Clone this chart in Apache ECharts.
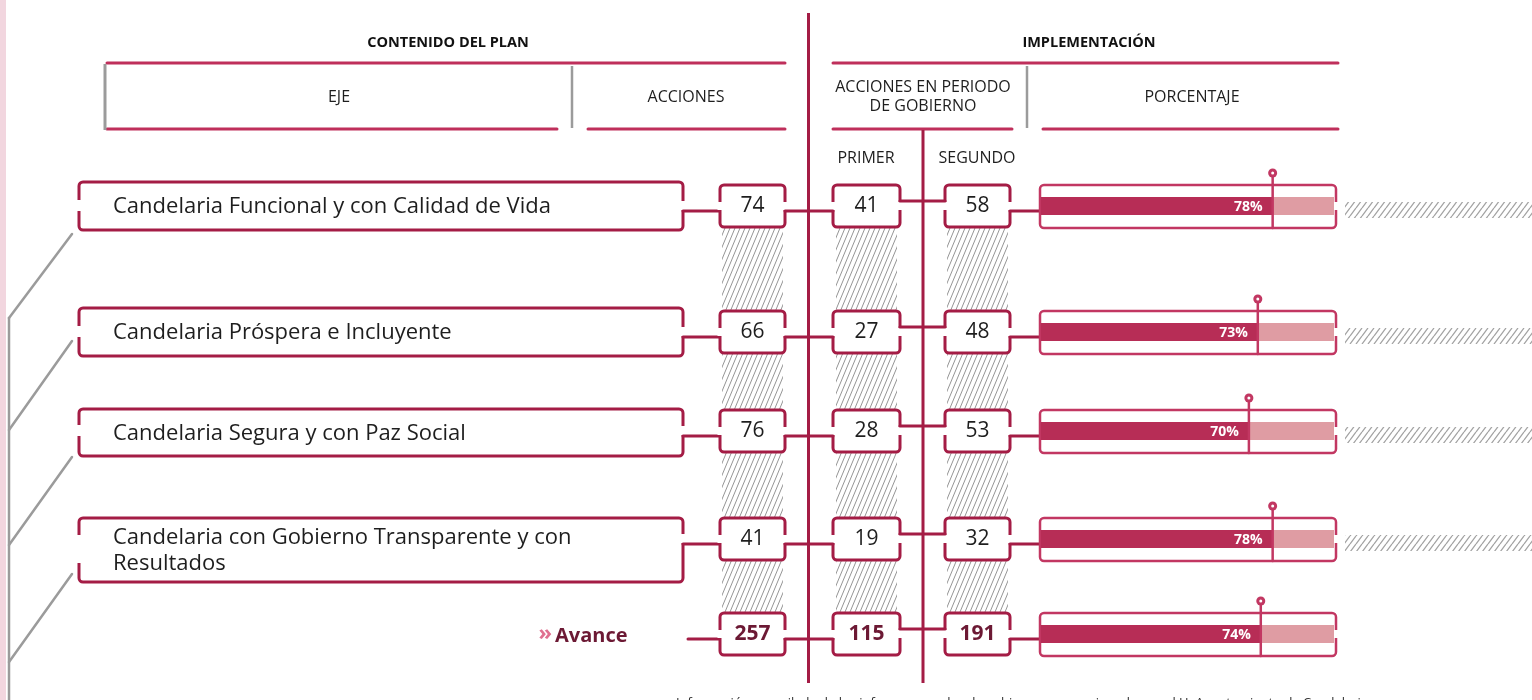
<!DOCTYPE html>
<html><head><meta charset="utf-8">
<script src="https://cdn.jsdelivr.net/npm/echarts@6/dist/echarts.min.js"></script>
<style>html,body{margin:0;padding:0;background:#fff;overflow:hidden}#c{width:1532px;height:700px}</style>
</head><body><div id="c"></div>
<script>
// ---------- data ----------
const ejes = [
  'Candelaria Funcional y con Calidad de Vida',
  'Candelaria Próspera e Incluyente',
  'Candelaria Segura y con Paz Social',
  'Candelaria con Gobierno Transparente y con Resultados',
  'Avance'
];
const acciones = [74, 66, 76, 41, 257];
const primer = [41, 27, 28, 19, 115];
const segundo = [58, 48, 53, 32, 191];
const porcentaje = [78, 73, 70, 78, 74];
const groupTitles = ['CONTENIDO DEL PLAN', 'IMPLEMENTACIÓN'];
const columnTitles = ['EJE', 'ACCIONES', 'ACCIONES EN PERIODO\nDE GOBIERNO', 'PORCENTAJE'];
const periodos = ['PRIMER', 'SEGUNDO'];
const nota = 'Información recopilada de los informes anuales de gobierno, proporcionada por el H. Ayuntamiento de Candelaria';

// ---------- layout (pixels) ----------
const ROW_Y = [206, 332, 431, 539, 634];
const LABEL_BOX = [[182, 230], [308, 356], [409, 456], [518, 582], null];
const LABEL_GAP = [[-6, 5], [-6, 5], [-6, 5], [-4, 24], null];
const COLS = [[720, 785], [833, 900], [945, 1010]];
const PBOX = [1040, 1336];
const LBX = [79, 683];

// ---------- styles ----------
const DARK = '#a41c45', HEAD = '#bf2f5b', PB = '#c23762', BAR = '#b72d56', BARL = '#df9ca3';
const GRAY = '#9b9b9b', TXT = '#1e1e1e', AV = '#6c1934', CHEV = '#e07090';
const FONT = '"Open Sans", "Noto Sans", sans-serif';

function hatch(w, h, color, lw) {
  const c = document.createElement('canvas'); c.width = w; c.height = h;
  const g = c.getContext('2d'); g.strokeStyle = color; g.lineWidth = lw;
  g.beginPath();
  for (let k = -1; k <= 1; k++) { g.moveTo(k * w, h); g.lineTo(k * w + w, 0); }
  g.stroke();
  return c;
}
const colHatch = { image: hatch(5, 12, '#959595', 1), repeat: 'repeat' };
const sideHatch = { image: hatch(6, 8, '#a3a3a3', 1.3), repeat: 'repeat' };

function txt(text, x, y, font, fill, align, valign, extra) {
  return { type: 'text', style: Object.assign({
    text, x, y, font, fill, align: align, verticalAlign: valign,
    textAlign: align, textVerticalAlign: valign }, extra || {}) };
}
function line(x1, y1, x2, y2, color, w) {
  return { type: 'line', shape: { x1, y1, x2, y2 }, style: { stroke: color, lineWidth: w, lineCap: 'round' } };
}
function rrect(x, y, w, h, stroke, lw) {
  return { type: 'rect', shape: { x, y, width: w, height: h, r: 4 }, style: { fill: '#fff', stroke, lineWidth: lw } };
}
function cover(x, y1, y2) {
  return { type: 'rect', shape: { x: x - 2.5, y: y1, width: 5, height: y2 - y1 }, style: { fill: '#fff' } };
}

// ---------- static graphic ----------
const g = [];
g.push({ type: 'rect', shape: { x: 0, y: 0, width: 6, height: 700 }, style: { fill: '#f2d6df' } });
g.push(line(9, 318, 9, 700, GRAY, 2.5));
[[318, 234], [430, 341], [545, 457], [662, 574]].forEach(d => g.push(line(9, d[0], 72, d[1], GRAY, 2.5)));
// group titles
g.push(txt(groupTitles[0], 448, 43, 'bold 14.5px ' + FONT, '#111', 'center', 'middle'));
g.push(txt(groupTitles[1], 1089, 43, 'bold 14.5px ' + FONT, '#111', 'center', 'middle'));
// header lines
g.push(line(107, 63, 785, 63, HEAD, 3), line(833, 63, 1338, 63, HEAD, 3));
g.push(line(107, 129, 557, 129, HEAD, 3), line(588, 129, 785, 129, HEAD, 3));
g.push(line(833, 129, 1012, 129, HEAD, 3), line(1043, 129, 1338, 129, HEAD, 3));
g.push({ type: 'line', shape: { x1: 105, y1: 64, x2: 105, y2: 130 }, style: { stroke: GRAY, lineWidth: 3 } });
g.push({ type: 'line', shape: { x1: 572, y1: 66, x2: 572, y2: 128 }, style: { stroke: GRAY, lineWidth: 2.5 } });
g.push({ type: 'line', shape: { x1: 1027, y1: 66, x2: 1027, y2: 128 }, style: { stroke: GRAY, lineWidth: 2.5 } });
// column titles
const HF = '16px ' + FONT;
g.push(txt(columnTitles[0], 339, 97, HF, TXT, 'center', 'middle'));
g.push(txt(columnTitles[1], 686, 97, HF, TXT, 'center', 'middle'));
g.push(txt(columnTitles[2], 923, 97, HF, TXT, 'center', 'middle', { lineHeight: 19 }));
g.push(txt(columnTitles[3], 1192, 97, HF, TXT, 'center', 'middle'));
g.push(txt(periodos[0], 866, 158, HF, TXT, 'center', 'middle'));
g.push(txt(periodos[1], 977, 158, HF, TXT, 'center', 'middle'));
// hatched columns
[[722, 783], [836, 897], [947, 1008]].forEach(cx => {
  g.push({ type: 'rect', shape: { x: cx[0], y: 226, width: cx[1] - cx[0], height: 388 }, style: { fill: colHatch } });
});
// vertical dividers
g.push({ type: 'line', shape: { x1: 808.5, y1: 13, x2: 808.5, y2: 683 }, style: { stroke: DARK, lineWidth: 3 }, z: 5 });
g.push({ type: 'line', shape: { x1: 923, y1: 130, x2: 923, y2: 683 }, style: { stroke: DARK, lineWidth: 3 }, z: 5 });
// note
g.push(txt(nota, 676, 697, '13px ' + FONT, '#333', 'left', 'top'));

// ---------- rows ----------
function renderItem(params, api) {
  const i = params.dataIndex;
  const pct = api.value(0);
  const p0 = api.coord([0, api.value(1)]);
  const p1 = api.coord([pct, api.value(1)]);
  const c = p0[1];
  const ch = [];
  const isTotal = i === ejes.length - 1;

  if (!isTotal) {
    const lb = LABEL_BOX[i], gp = LABEL_GAP[i];
    ch.push(rrect(LBX[0], lb[0], LBX[1] - LBX[0], lb[1] - lb[0], DARK, 3));
    ch.push(cover(LBX[0], c + gp[0], c + gp[1]));
    ch.push(cover(LBX[1], c - 5, c + 4));
    ch.push(txt(ejes[i], 113, (lb[0] + lb[1]) / 2 + 1, '22px ' + FONT, TXT, 'left', 'middle',
      { width: 490, overflow: 'break', lineHeight: 26 }));
    ch.push(line(LBX[1], c + 5, COLS[0][0], c + 5, DARK, 3));
  } else {
    ch.push(txt('»', 552, c, 'bold 22px ' + FONT, CHEV, 'right', 'middle'));
    ch.push(txt(ejes[i], 555, c + 2, 'bold 20px ' + FONT, AV, 'left', 'middle'));
    ch.push(line(688, c + 5, COLS[0][0], c + 5, DARK, 3));
  }
  const vals = [acciones[i], primer[i], segundo[i]];
  COLS.forEach((cx, k) => {
    ch.push(rrect(cx[0], c - 21, cx[1] - cx[0], 42, DARK, 3));
    ch.push(cover(cx[0], c - 4, c + 4));
    ch.push(cover(cx[1], c - 4, c + 4));
    ch.push(txt(String(vals[k]), (cx[0] + cx[1]) / 2, c, (isTotal ? 'bold ' : '') + '21px ' + FONT,
      isTotal ? AV : TXT, 'center', 'middle'));
  });
  ch.push(line(COLS[0][1], c + 5, COLS[1][0], c + 5, DARK, 3));
  ch.push(line(COLS[1][1], c - 5, COLS[2][0], c - 5, DARK, 3));
  ch.push(line(COLS[2][1], c + 5, PBOX[0], c + 5, DARK, 3));

  ch.push(rrect(PBOX[0], c - 21, PBOX[1] - PBOX[0], 43, PB, 2.5));
  ch.push(cover(PBOX[1], c - 4, c + 4));
  ch.push({ type: 'rect', shape: { x: p1[0], y: c - 9, width: PBOX[1] - 2 - p1[0], height: 18 }, style: { fill: BARL } });
  ch.push({ type: 'rect', shape: { x: p0[0], y: c - 9, width: p1[0] - p0[0], height: 18 }, style: { fill: BAR } });
  ch.push(line(p1[0], c - 33, p1[0], c + 22, PB, 2.5));
  ch.push({ type: 'circle', shape: { cx: p1[0], cy: c - 33, r: 4.5 }, style: { fill: PB } });
  ch.push({ type: 'circle', shape: { cx: p1[0], cy: c - 33, r: 1.5 }, style: { fill: '#fff' } });
  ch.push(txt(pct + '%', p1[0] - 10, c + 1, 'bold 14px ' + FONT, '#fff', 'right', 'middle'));

  if (!isTotal) {
    ch.push({ type: 'rect', shape: { x: 1345, y: c - 4, width: 190, height: 16 }, style: { fill: sideHatch } });
  }
  return { type: 'group', children: ch };
}

const chart = echarts.init(document.getElementById('c'), null, { renderer: 'canvas' });
chart.setOption({
  animation: false,
  backgroundColor: '#fff',
  grid: { left: 1041, width: 297, top: 0, height: 700 },
  xAxis: { type: 'value', min: 0, max: 100, show: false },
  yAxis: { type: 'value', min: 0, max: 700, inverse: true, show: false },
  graphic: { elements: g },
  series: [{
    type: 'custom',
    renderItem,
    clip: false,
    encode: { x: 0, y: 1 },
    data: porcentaje.map((p, i) => [p, ROW_Y[i]])
  }]
});
</script>
</body></html>
